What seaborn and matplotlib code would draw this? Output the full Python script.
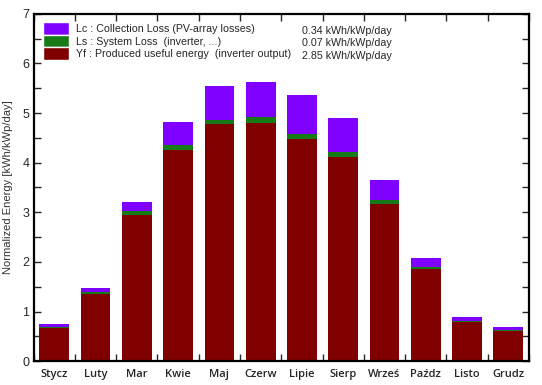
import numpy as np
import pandas as pd
import matplotlib
matplotlib.use("Agg")
import matplotlib.pyplot as plt
import seaborn as sns
from matplotlib.patches import Patch

# Monthly normalized energy values [kWh/kWp/day]
months = ['Stycz', 'Luty', 'Mar', 'Kwie', 'Maj', 'Czerw', 'Lipie', 'Sierp', 'Wrześ', 'Paźdz', 'Listo', 'Grudz']
yf = [0.66, 1.36, 2.94, 4.25, 4.77, 4.81, 4.47, 4.12, 3.17, 1.85, 0.78, 0.61]
ls = [0.02, 0.03, 0.08, 0.10, 0.10, 0.11, 0.11, 0.09, 0.08, 0.05, 0.02, 0.02]
lc = [0.07, 0.08, 0.18, 0.48, 0.67, 0.71, 0.78, 0.69, 0.41, 0.17, 0.09, 0.05]

legend_labels = ['Lc : Collection Loss (PV-array losses)',
                 'Ls : System Loss  (inverter, ...)',
                 'Yf : Produced useful energy  (inverter output)']
legend_values = ['0.34 kWh/kWp/day', '0.07 kWh/kWp/day', '2.85 kWh/kWp/day']

col_lc = '#8000ff'
col_ls = '#167a16'
col_yf = '#800000'

df = pd.DataFrame({'month': months, 'Yf': yf, 'Ls': ls, 'Lc': lc})
df['yf_ls'] = df['Yf'] + df['Ls']
df['total'] = df['yf_ls'] + df['Lc']

sns.set_style("white")
plt.rcParams['font.family'] = ['Liberation Sans', 'DejaVu Sans']

fig = plt.figure(figsize=(5.42, 3.85), dpi=100)
ax = fig.add_axes([0.062, 0.062, 0.914, 0.902])

# stacked bars drawn as overlapping cumulative totals
bar_kw = dict(width=0.72, saturation=1, linewidth=0, edgecolor='none', ax=ax)
sns.barplot(data=df, x='month', y='total', color=col_lc, **bar_kw)
sns.barplot(data=df, x='month', y='yf_ls', color=col_ls, **bar_kw)
sns.barplot(data=df, x='month', y='Yf', color=col_yf, **bar_kw)

ax.set_xlim(-0.5, 11.5)
ax.set_ylim(0, 7)
ax.set_xlabel("")
ax.set_ylabel("Normalized Energy [kWh/kWp/day]", fontsize=8, color='#333333', labelpad=7)

# axis frame and ticks
for sp in ax.spines.values():
    sp.set_visible(True)
    sp.set_linewidth(1.6)
    sp.set_color('black')

ax.set_yticks(np.arange(0, 8, 1))
ax.set_yticks(np.arange(0, 7.01, 0.5), minor=True)
ax.tick_params(axis='y', which='both', direction='in', left=True, right=True,
               length=5, width=1, labelsize=9, pad=3)
ax.set_xticks(np.arange(-0.5, 12, 1), minor=True)
ax.tick_params(axis='x', which='major', length=0, pad=6)
ax.tick_params(axis='x', which='minor', direction='in', bottom=True, top=True, length=5, width=1)
for lbl in ax.get_xticklabels():
    lbl.set_fontfamily(['Open Sans', 'DejaVu Sans'])
    lbl.set_fontweight('semibold')
    lbl.set_fontsize(8)

# legend
handles = [Patch(facecolor=col_lc), Patch(facecolor=col_ls), Patch(facecolor=col_yf)]
ax.legend(handles, legend_labels, loc='upper left', bbox_to_anchor=(0.019, 0.976),
          frameon=False, fontsize=7.7, handlelength=2.47, handleheight=1.44,
          labelspacing=0, handletextpad=0.65, borderpad=0, borderaxespad=0)
for i, val in enumerate(legend_values):
    ax.text(0.723, [0.952, 0.915, 0.878][i], val, transform=ax.transAxes,
            ha='right', va='center', fontsize=7.7)

plt.savefig("out.png", dpi=100)
